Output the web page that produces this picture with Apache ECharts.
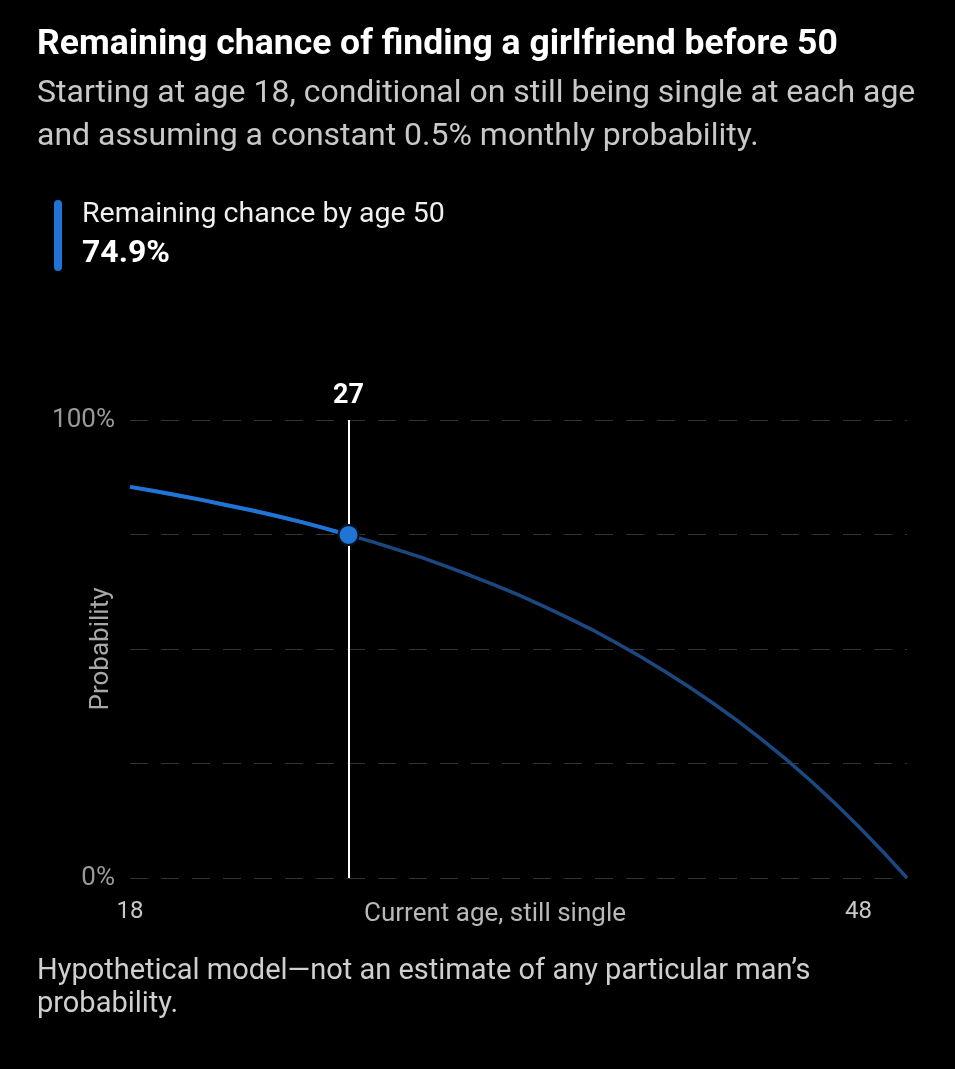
<!DOCTYPE html>
<html>
<head>
<meta charset="utf-8">
<script src="https://cdn.jsdelivr.net/npm/echarts@6/dist/echarts.min.js"></script>
<style>
  html, body { margin: 0; padding: 0; background: #000; }
  #main { width: 955px; height: 1069px; }
</style>
</head>
<body>
<div id="main"></div>
<script>
// ages on the x axis (still single at this age)
const ages = ['18', '19', '20', '21', '22', '23', '24', '25', '26', '27', '28', '29', '30', '31', '32', '33',
  '34', '35', '36', '37', '38', '39', '40', '41', '42', '43', '44', '45', '46', '47', '48', '49', '50']
// remaining chance (%) of finding a girlfriend before 50
const remaining = [85.4, 84.5, 83.5, 82.5, 81.4, 80.3, 79.1, 77.8, 76.4, 74.9, 73.4, 71.7, 70.0, 68.1, 66.1, 64.0,
  61.8, 59.4, 56.9, 54.3, 51.4, 48.4, 45.2, 41.8, 38.2, 34.4, 30.3, 26.0, 21.4, 16.5, 11.3, 5.8, 0]
const xTickLabels = ['18', '48']
const yTickLabels = [0, 100]
const currentAge = '27'
const currentValue = 74.9

const FONT = 'Roboto, "Noto Sans", sans-serif'
const BLUE = '#1f74d6'
const DARK_BLUE = '#1b4880'

const chart = echarts.init(document.getElementById('main'))

const idx = ages.indexOf(currentAge)
const pastPart = remaining.map((v, i) => (i <= idx ? v : '-'))

const option = {
  backgroundColor: '#000',
  animation: false,
  textStyle: { fontFamily: FONT },
  graphic: [
    {
      type: 'text', left: 37, top: 27,
      style: { text: 'Remaining chance of finding a girlfriend before 50', fill: '#fff', font: 'bold 35.5px ' + FONT }
    },
    {
      type: 'text', left: 37, top: 72,
      style: {
        text: 'Starting at age 18, conditional on still being single at each age\nand assuming a constant 0.5% monthly probability.',
        fill: '#c8c8c8', font: '32px ' + FONT, lineHeight: 43
      }
    },
    {
      type: 'rect', shape: { x: 54, y: 200, width: 8, height: 71, r: 4 },
      style: { fill: BLUE }
    },
    {
      type: 'text', left: 82, top: 200,
      style: { text: 'Remaining chance by age 50', fill: '#f0f0f0', font: '28.5px ' + FONT }
    },
    {
      type: 'text', left: 82, top: 238,
      style: { text: currentValue.toFixed(1) + '%', fill: '#fff', font: 'bold 32px ' + FONT }
    },
    {
      type: 'text', left: 37, top: 955,
      style: {
        text: 'Hypothetical model\u2014not an estimate of any particular man\u2019s\nprobability.',
        fill: '#cfcfcf', font: '29px ' + FONT, lineHeight: 33
      }
    }
  ],
  grid: { left: 130, right: 48, top: 420, bottom: 191 },
  xAxis: {
    type: 'category',
    data: ages,
    boundaryGap: false,
    axisLine: { show: false },
    axisTick: { show: false },
    axisLabel: {
      interval: (i, v) => xTickLabels.includes(v),
      color: '#c8c8c8', fontSize: 24, margin: 22
    },
    name: 'Current age, still single',
    nameLocation: 'middle',
    nameGap: 23,
    nameMoveOverlap: false,
    nameTextStyle: { color: '#b8b8b8', fontSize: 26, padding: [0, 47, 0, 0] }
  },
  yAxis: {
    type: 'value',
    min: 0, max: 100, interval: 25,
    axisLine: { show: false },
    axisTick: { show: false },
    axisLabel: {
      formatter: v => (yTickLabels.includes(v) ? v + '%' : ''),
      color: '#9a9a9a', fontSize: 26, margin: 15
    },
    splitLine: { lineStyle: { color: '#333', width: 1, type: [18, 13] } },
    name: 'Probability',
    nameLocation: 'middle',
    nameGap: 16,
    nameMoveOverlap: false,
    nameTextStyle: { color: '#a8a8a8', fontSize: 26 }
  },
  series: [
    {
      type: 'line',
      data: remaining,
      symbol: 'none',
      lineStyle: { color: DARK_BLUE, width: 3.5 },
      z: 2
    },
    {
      type: 'line',
      data: pastPart,
      symbol: 'none',
      lineStyle: { color: BLUE, width: 4 },
      z: 3,
      markLine: {
        silent: true,
        symbol: 'none',
        lineStyle: { color: '#fff', width: 2, type: 'solid' },
        label: {
          show: true, position: 'end', formatter: currentAge,
          color: '#fff', fontSize: 27, fontWeight: 'bold', distance: 10
        },
        data: [{ xAxis: currentAge }]
      },
      markPoint: {
        silent: true,
        symbol: 'circle',
        symbolSize: 20,
        itemStyle: { color: BLUE, borderColor: '#06121f', borderWidth: 2 },
        label: { show: false },
        data: [{ coord: [currentAge, currentValue] }]
      }
    }
  ]
}

chart.setOption(option)
</script>
</body>
</html>
